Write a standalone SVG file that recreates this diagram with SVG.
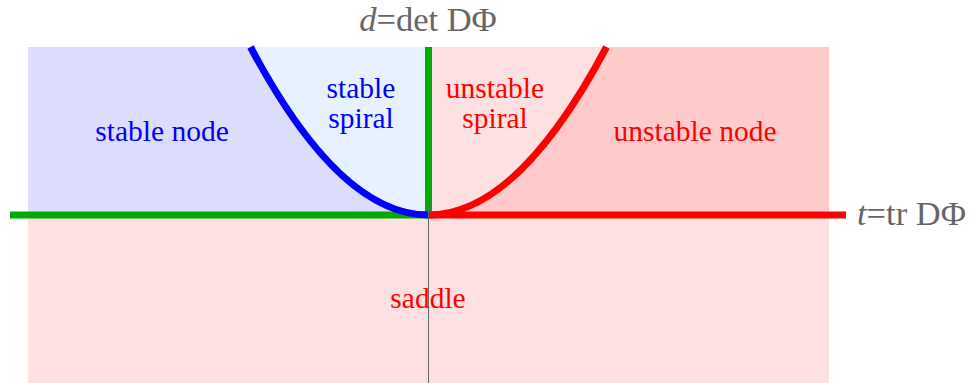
<svg xmlns="http://www.w3.org/2000/svg" width="971" height="383" viewBox="0 0 971 383">
<style>
.lbl{font-family:"Liberation Serif","DejaVu Serif",serif;font-size:29.5px;text-anchor:middle}
.ax{font-family:"Liberation Serif","DejaVu Serif",serif;font-size:34.5px;fill:#666}
.curve{fill:none;stroke-width:7}
</style>
<rect width="971" height="383" fill="#fff"/>
<g id="saddle"><rect x="28" y="215" width="801" height="168" fill="#ffe0e0"/><text class="lbl" x="428" y="308" fill="#f00">saddle</text></g>
<g id="stable-node"><rect x="28" y="47" width="400.5" height="168" fill="#dcdcfc"/><text class="lbl" x="162" y="141" fill="#00f">stable node</text></g>
<g id="stable-spiral"><path d="M250.5,47 Q339.5,215 428.5,215 L428.5,47 Z" fill="#e6f2ff"/><text class="lbl" x="361" y="98" fill="#00f">stable</text><text class="lbl" x="361" y="128" fill="#00f">spiral</text></g>
<g id="unstable-node"><rect x="428.5" y="47" width="400.5" height="168" fill="#ffcaca"/><text class="lbl" x="695" y="141" fill="#f00">unstable node</text></g>
<g id="unstable-spiral"><path d="M428.5,47 L428.5,215 Q517.5,215 606.5,47 Z" fill="#ffe0e0"/><text class="lbl" x="495" y="98" fill="#f00">unstable</text><text class="lbl" x="495" y="128" fill="#f00">spiral</text></g>
<g id="connectors">
<line x1="428.5" y1="47" x2="428.5" y2="383" stroke="#666" stroke-width="1"/>
<line x1="10" y1="215" x2="846" y2="215" stroke="#666" stroke-width="1"/>
<line x1="10" y1="215" x2="428.5" y2="215" stroke="#00aa00" stroke-width="7"/>
<line x1="428.5" y1="215" x2="846" y2="215" stroke="#f00" stroke-width="7"/>
<line x1="428.5" y1="47" x2="428.5" y2="215" stroke="#00aa00" stroke-width="7"/>
<path class="curve" stroke="#00f" d="M250.5,47 Q339.5,215 428.5,215"/>
<path class="curve" stroke="#f00" d="M428.5,215 Q517.5,215 606.5,47"/>
<line x1="428.5" y1="205" x2="428.5" y2="383" stroke="#666" stroke-width="1"/>
</g>
<text class="ax" x="428" y="31" text-anchor="middle"><tspan font-style="italic">d</tspan>=det DΦ</text>
<text class="ax" x="857" y="225"><tspan font-style="italic">t</tspan>=tr DΦ</text>
</svg>
